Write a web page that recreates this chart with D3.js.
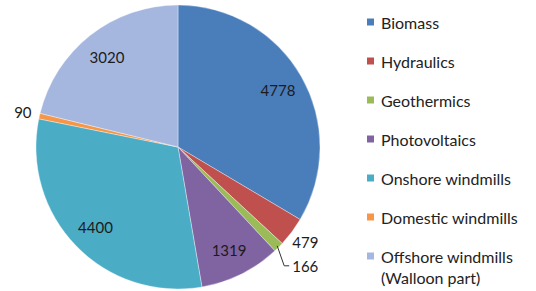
<!DOCTYPE html>
<html><head><meta charset="utf-8">
<script src="https://cdn.jsdelivr.net/npm/d3@7"></script>
<style>html,body{margin:0;padding:0;background:#fff;}svg{display:block;}</style>
</head><body>
<svg id="c" width="536" height="291"></svg>
<script>
const categories = ["Biomass","Hydraulics","Geothermics","Photovoltaics","Onshore windmills","Domestic windmills","Offshore windmills (Walloon part)"];
const legendLines = [["Biomass"],["Hydraulics"],["Geothermics"],["Photovoltaics"],["Onshore windmills"],["Domestic windmills"],["Offshore windmills","(Walloon part)"]];
const values = [4778, 479, 166, 1319, 4400, 90, 3020];
const colors = ["#4A7EBB","#C0504D","#9BBB59","#8064A2","#4BACC6","#F79646","#A6B7DF"];

const W = 536, H = 291;
const cx = 178, cy = 147, R = 142;
const font = "Lato, 'Open Sans', sans-serif";

const svg = d3.select("#c");
const g = svg.append("g").attr("transform", `translate(${cx},${cy})`);

const pie = d3.pie().sort(null).value(d => d)(values);
const arc = d3.arc().innerRadius(0).outerRadius(R);

g.selectAll("path.slice").data(pie).enter().append("path")
  .attr("class","slice")
  .attr("d", arc)
  .attr("fill", (d,i) => colors[i])
  .attr("stroke", "#ffffff").attr("stroke-width", 0.6).attr("stroke-opacity", 0.6);

const pt = (a, r) => [Math.sin(a) * r, -Math.cos(a) * r];
const mid = d => (d.startAngle + d.endAngle) / 2;

pie.forEach((d, i) => {
  const frac = (d.endAngle - d.startAngle) / (2 * Math.PI);
  const label = g.append("text")
    .attr("font-family", font).attr("font-size", 15).attr("fill", "#1b1b1b")
    .attr("dominant-baseline", "central").text(values[i]);
  if (frac > 0.05) {
    const [x, y] = pt(mid(d), R * 0.81);
    label.attr("x", x).attr("y", y).attr("text-anchor", "middle");
  } else if (i === 2) {
    const a = mid(d);
    const [x0, y0] = pt(a, R - 2);
    const x1 = x0 + 7, y1 = y0 + 20, x2 = x1 + 5;
    g.append("path").attr("d", `M${x0},${y0}L${x1},${y1}L${x2},${y1}`)
      .attr("fill","none").attr("stroke","#333").attr("stroke-width",1);
    label.attr("x", x2 + 3).attr("y", y1).attr("text-anchor","start");
  } else {
    const [x, y] = pt(mid(d), R + 17);
    label.attr("x", x).attr("y", y).attr("text-anchor", "middle");
  }
});

const lx = 367, ly0 = 22, step = 39;
const lg = svg.append("g");
legendLines.forEach((lines, i) => {
  const y = ly0 + i * step;
  lg.append("rect").attr("x", lx).attr("y", y - 3.5).attr("width", 7).attr("height", 7).attr("fill", colors[i]);
  lines.forEach((t, j) => {
    lg.append("text").attr("x", lx + 14).attr("y", y + j * 21)
      .attr("dominant-baseline","central")
      .attr("font-family", font).attr("font-size", 16).attr("fill", "#222").text(t);
  });
});
</script>
</body></html>
